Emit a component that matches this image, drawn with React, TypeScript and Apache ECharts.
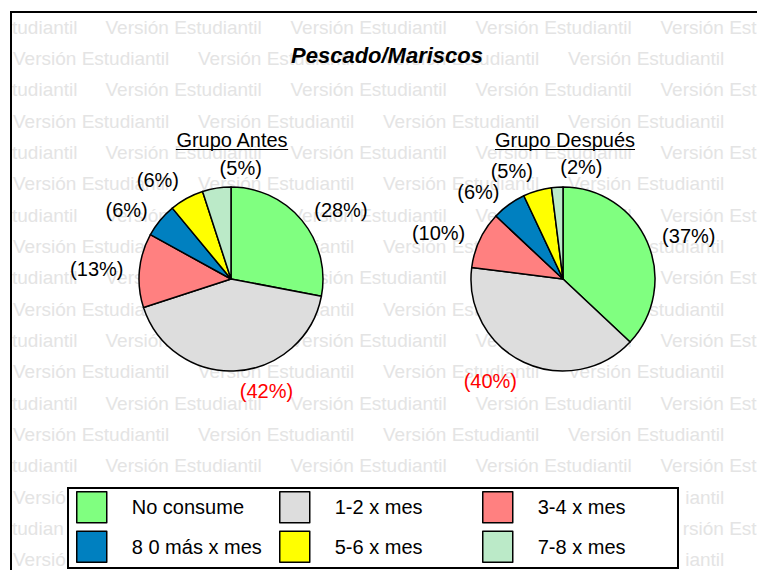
import React, { useEffect, useRef } from "react";
import * as echarts from "echarts";

const categories = ["No consume", "1-2 x mes", "3-4 x mes", "8 0 más x mes", "5-6 x mes", "7-8 x mes"];
const antesValues = [28, 42, 13, 6, 6, 5];
const despuesValues = [37, 40, 10, 6, 5, 2];
const sliceColors = ["#80ff80", "#dddddd", "#ff8080", "#0080c0", "#ffff00", "#bbeac8"];
const groupTitles = ["Grupo Antes", "Grupo Después"];
const chartTitle = "Pescado/Mariscos";
const watermarkText = "Versión Estudiantil";

const FONT = "'Liberation Sans', Arial, sans-serif";
const PIE_R = 92;
const PIE_CENTERS: [number, number][] = [[231, 279], [563, 279]];
const seriesValues = [antesValues, despuesValues];

function buildData(values: number[]) {
  const maxIdx = values.indexOf(Math.max(...values));
  return categories.map((name, i) => ({
    name,
    value: values[i],
    itemStyle: { color: sliceColors[i] },
    label: { color: i === maxIdx ? "#ff0000" : "#000000" },
  }));
}

// Excel-like outside label placement, derived from each slice's bisector
function placeLabel(params: any) {
  const values = seriesValues[params.seriesIndex];
  const idx = params.dataIndex;
  const total = values.reduce((a, b) => a + b, 0);
  let cum = 0;
  for (let i = 0; i < idx; i++) cum += values[i];
  cum += values[idx] / 2;
  const ang = (cum / total) * Math.PI * 2;
  const dx = Math.sin(ang);
  const dy = -Math.cos(ang);
  const [cx, cy] = PIE_CENTERS[params.seriesIndex];
  const px = cx + PIE_R * dx;
  const py = cy + PIE_R * dy;
  let x: number, align: string;
  if (dx > 0.2) { align = "left"; x = px + dx * 16; }
  else if (dx < -0.2) { align = "right"; x = px + dx * 16; }
  else { align = "left"; x = px + 3; }
  let y: number, verticalAlign: string;
  if (dy < -0.85) { verticalAlign = "bottom"; y = py + dy * 10; }
  else if (dy > 0.85) { verticalAlign = "top"; y = py + dy * 10; }
  else { verticalAlign = "middle"; y = py + dy * 16; }
  return { x, y, align, verticalAlign };
}

export default function App() {
  const ref = useRef<HTMLDivElement>(null);
  useEffect(() => {
    if (!ref.current) return;
    const chart = echarts.init(ref.current, undefined, { renderer: "svg" });

    const graphics: any[] = [];
    // watermark, clipped to the visible areas
    const wmFont = `19px ${FONT}`;
    const ctx = document.createElement("canvas").getContext("2d")!;
    ctx.font = wmFont;
    const prefix: number[] = [];
    for (let i = 0; i <= watermarkText.length; i++) prefix.push(ctx.measureText(watermarkText.slice(0, i)).width);
    const rowGap = 31.35;
    const period = 185;
    const legendBox = { x: 68, y: 488, w: 610, h: 80 };
    for (let k = 0; k < 18; k++) {
      const y = 27 + rowGap * k;
      const inLegend = y + 10 > legendBox.y && y - 10 < legendBox.y + legendBox.h;
      const intervals = inLegend
        ? [[13, legendBox.x - 1], [legendBox.x + legendBox.w + 1, 757]]
        : [[13, 757]];
      const start = k % 2 === 0 ? 13 - period / 2 : 13;
      for (let j = -2; j < 6; j++) {
        const s = start + period * j;
        for (const [a, b] of intervals) {
          let i0 = 0;
          while (i0 < watermarkText.length && s + prefix[i0] < a - 4) i0++;
          let i1 = watermarkText.length;
          while (i1 > i0 && s + prefix[i1] > b) i1--;
          if (i1 <= i0) continue;
          const sub = watermarkText.slice(i0, i1).trim();
          if (!sub) continue;
          let lead = i0;
          while (watermarkText[lead] === " ") lead++;
          graphics.push({
            type: "text",
            x: Math.max(s + prefix[lead], a - 1),
            y,
            z: 0,
            silent: true,
            style: { text: sub, fill: "#e4e4e4", font: wmFont, textAlign: "left", textVerticalAlign: "middle" },
          });
        }
      }
    }
    // frame
    graphics.push({ type: "rect", z: 6, silent: true, shape: { x: 11, y: 12, width: 800, height: 600 }, style: { fill: "none", stroke: "#000", lineWidth: 2 } });
    // legend box
    graphics.push({ type: "rect", z: 6, silent: true, shape: { x: legendBox.x, y: legendBox.y, width: legendBox.w, height: legendBox.h }, style: { fill: "#fff", stroke: "#000", lineWidth: 2 } });
    // group subtitles
    const subCenters = [232, 565];
    groupTitles.forEach((t, i) => {
      ctx.font = `20px ${FONT}`;
      const w = ctx.measureText(t).width;
      graphics.push({
        type: "text", z: 7, x: subCenters[i], y: 140, silent: true,
        style: { text: t, fill: "#000", font: `20px ${FONT}`, textAlign: "center", textVerticalAlign: "middle" },
      });
      graphics.push({
        type: "line", z: 7, silent: true,
        shape: { x1: subCenters[i] - w / 2, y1: 149.5, x2: subCenters[i] + w / 2, y2: 149.5 },
        style: { stroke: "#000", lineWidth: 1 },
      });
    });
    // title
    graphics.push({
      type: "text", z: 7, x: 387, y: 55, silent: true,
      style: { text: chartTitle, fill: "#000", font: `italic bold 22px ${FONT}`, textAlign: "center", textVerticalAlign: "middle" },
    });

    const pieBase = {
      type: "pie",
      radius: PIE_R,
      startAngle: 90,
      clockwise: true,
      silent: true,
      z: 2,
      avoidLabelOverlap: false,
      itemStyle: { borderColor: "#000", borderWidth: 1.5 },
      label: {
        show: true,
        position: "outside",
        fontSize: 20,
        fontFamily: FONT,
        color: "#000",
        formatter: (p: any) => `(${Math.round(p.percent)}%)`,
      },
      labelLine: { show: false, length: 12, length2: 0 },
      labelLayout: placeLabel,
      emphasis: { disabled: true },
    };

    const legendCols = [
      [categories[0], categories[3]],
      [categories[1], categories[4]],
      [categories[2], categories[5]],
    ];
    const legendLeft = [76, 279, 482];

    chart.setOption({
      animation: false,
      backgroundColor: "#fff",
      graphic: { elements: graphics },
      legend: legendCols.map((data, i) => ({
        data,
        orient: "vertical",
        left: legendLeft[i],
        top: 491,
        padding: 0,
        itemGap: 7,
        itemWidth: 30,
        itemHeight: 31,
        icon: "rect",
        selectedMode: false,
        z: 10,
        itemStyle: { borderColor: "#000", borderWidth: 1.5 },
        textStyle: { fontSize: 20, fontFamily: FONT, color: "#000", padding: [0, 0, 0, 20] },
      })),
      series: [
        { ...pieBase, name: groupTitles[0], center: PIE_CENTERS[0], data: buildData(antesValues) },
        { ...pieBase, name: groupTitles[1], center: PIE_CENTERS[1], data: buildData(despuesValues) },
      ],
    });
    return () => chart.dispose();
  }, []);
  return (
    <div
      ref={ref}
      style={{ position: "absolute", left: 0, top: 0, width: 757, height: 570, background: "#fff" }}
    />
  );
}
